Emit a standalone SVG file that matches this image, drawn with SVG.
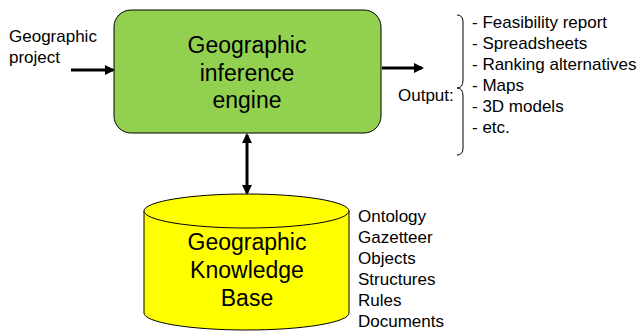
<svg xmlns="http://www.w3.org/2000/svg" width="644" height="331" viewBox="0 0 644 331">
<style>
text{font-family:"Liberation Sans",Arial,sans-serif;fill:#000}
.big{font-size:23px;text-anchor:middle}
.sm{font-size:17px}
.line{stroke:#000;stroke-width:3;fill:none}
</style>
<defs>
<marker id="ah" markerWidth="10" markerHeight="10" refX="8" refY="5" orient="auto-start-reverse" markerUnits="userSpaceOnUse" viewBox="0 0 10 10">
<path d="M0,0 L10,5 L0,10 z" fill="#000"/>
</marker>
</defs>
<rect width="644" height="331" fill="#fff"/>
<g id="input-label">
<text class="sm" x="9" y="42">Geographic</text>
<text class="sm" x="9" y="63">project</text>
</g>
<g id="engine">
<rect x="114" y="10" width="267" height="123" rx="17" ry="17" fill="#92D050" stroke="#000" stroke-width="1"/>
<text class="big" x="247" y="53">Geographic</text>
<text class="big" x="247" y="81">inference</text>
<text class="big" x="247" y="108">engine</text>
</g>
<g id="knowledge-base">
<path d="M144,211 L144,313 A102.5,17 0 0 0 349,313 L349,211" fill="#FFFF00" stroke="#000" stroke-width="1"/>
<ellipse cx="246.5" cy="211" rx="102.5" ry="17" fill="#FFFF00" stroke="#000" stroke-width="1"/>
<text class="big" x="247" y="250">Geographic</text>
<text class="big" x="247" y="278">Knowledge</text>
<text class="big" x="247" y="306">Base</text>
</g>
<g id="kb-contents">
<text class="sm" x="358" y="222">Ontology</text>
<text class="sm" x="358" y="243">Gazetteer</text>
<text class="sm" x="358" y="264">Objects</text>
<text class="sm" x="358" y="285">Structures</text>
<text class="sm" x="358" y="306">Rules</text>
<text class="sm" x="358" y="327">Documents</text>
</g>
<g id="output">
<text class="sm" x="398" y="101">Output:</text>
<path d="M457,15 Q463,15 463,22 L463,80 Q463,88 457,88 Q463,88 463,96 L463,148 Q463,155 457,155" fill="none" stroke="#000" stroke-width="1"/>
<text class="sm" x="472" y="28">- Feasibility report</text>
<text class="sm" x="472" y="49">- Spreadsheets</text>
<text class="sm" x="472" y="70">- Ranking alternatives</text>
<text class="sm" x="472" y="91">- Maps</text>
<text class="sm" x="472" y="112">- 3D models</text>
<text class="sm" x="472" y="133">- etc.</text>
</g>
<g id="connectors">
<line class="line" x1="71" y1="70" x2="113" y2="70" marker-end="url(#ah)"/>
<line class="line" x1="382" y1="68" x2="422" y2="68" marker-end="url(#ah)"/>
<line class="line" x1="247" y1="135" x2="247" y2="193" marker-start="url(#ah)" marker-end="url(#ah)"/>
</g>
</svg>
